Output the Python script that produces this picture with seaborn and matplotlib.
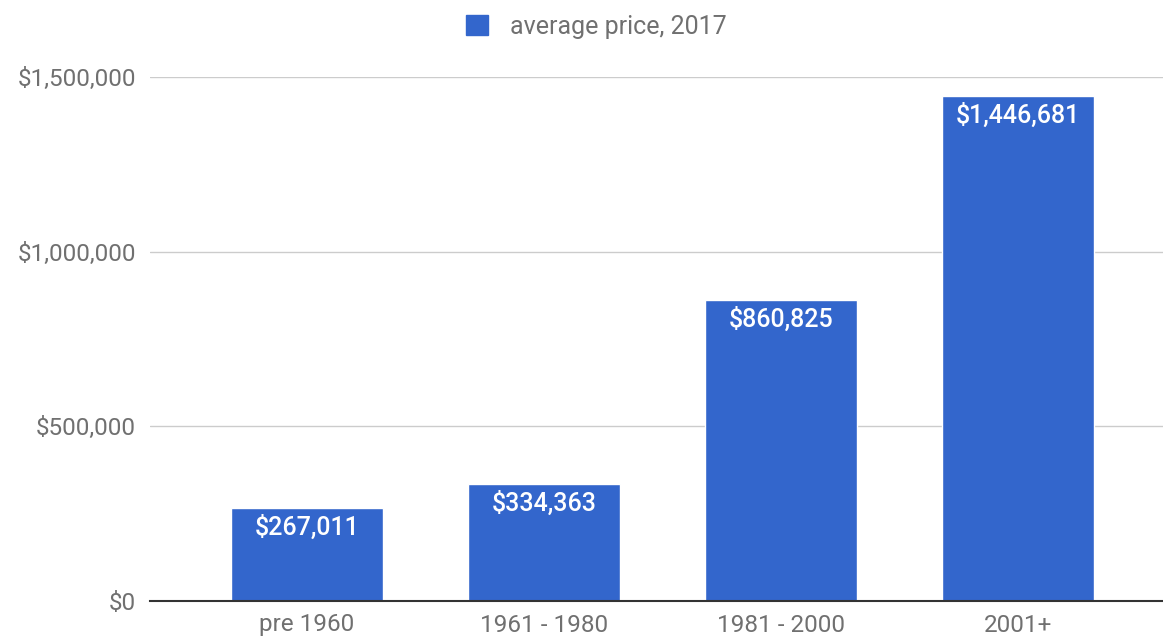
import pandas as pd
import matplotlib.pyplot as plt
import seaborn as sns
from matplotlib.patches import Patch
from matplotlib.ticker import FuncFormatter

# chart data
periods = ["pre 1960", "1961 - 1980", "1981 - 2000", "2001+"]
avg_price = [267011, 334363, 860825, 1446681]
series_name = "average price, 2017"

df = pd.DataFrame({"period": periods, "price": avg_price})

sns.set_theme(style="white")
plt.rcParams['font.family'] = ['Roboto', 'DejaVu Sans']

bar_color = "#3366cc"
text_gray = "#707070"

fig = plt.figure(figsize=(11.63, 6.38), dpi=100)
ax = fig.add_axes([150 / 1163, 1 - 601 / 638, 1 - 150 / 1163, (601 - 77) / 638])

sns.barplot(data=df, x="period", y="price", color=bar_color, width=0.64,
            saturation=1, ax=ax)

ax.set_xlim(-0.662, 3.61)
ax.set_ylim(0, 1500000)
ax.set_yticks([0, 500000, 1000000, 1500000])
ax.yaxis.set_major_formatter(FuncFormatter(lambda v, p: f"${v:,.0f}"))
ax.grid(axis="y", color="#cccccc", linewidth=1)
ax.set_axisbelow(True)
for s in ["left", "right", "top"]:
    ax.spines[s].set_visible(False)
ax.spines["bottom"].set_color("#333333")
ax.spines["bottom"].set_linewidth(1.5)
ax.spines["bottom"].set_zorder(5)
ax.tick_params(axis="both", length=0, labelsize=17.5, colors=text_gray)
ax.tick_params(axis="y", pad=10)
ax.tick_params(axis="x", pad=9)
ax.set_xlabel("")
ax.set_ylabel("")

ax.bar_label(ax.containers[0], labels=[f"${v:,}" for v in avg_price],
             padding=-23, color="white", fontsize=18, fontweight="medium")

handle = Patch(facecolor=bar_color, edgecolor=bar_color)
fig.legend([handle], [series_name], loc="center", bbox_to_anchor=(0.513, 1 - 27 / 638),
           frameon=False, fontsize=18, labelcolor=text_gray, handlelength=0.85,
           handleheight=0.85, handletextpad=0.9)

plt.savefig("out.png", dpi=100)
